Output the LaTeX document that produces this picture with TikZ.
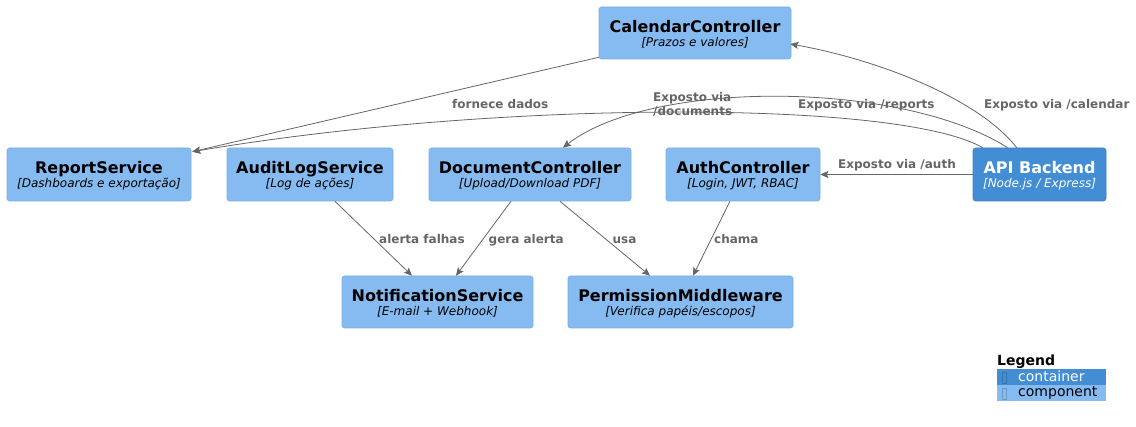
\documentclass[tikz,border=0pt]{standalone}
\usepackage{fontspec}
\setmainfont{DejaVu Sans}
\usetikzlibrary{arrows.meta,calc}
\definecolor{compc}{HTML}{85BBF0}
\definecolor{compd}{HTML}{7AAEE2}
\definecolor{contc}{HTML}{438DD5}
\definecolor{contd}{HTML}{3D83C8}
\definecolor{edgec}{HTML}{666666}
\definecolor{lblc}{HTML}{666666}
\tikzset{
  box/.style={rectangle, rounded corners=2.5pt, inner sep=0pt, line width=0.6pt},
  comp/.style={box, fill=compc, draw=compd},
  cont/.style={box, fill=contc, draw=contd},
  ttl/.style={anchor=base, inner sep=0pt, font=\fontsize{16}{16}\selectfont\bfseries},
  subt/.style={anchor=base, inner sep=0pt, font=\fontsize{12}{12}\selectfont\itshape},
  lbl/.style={anchor=base west, inner sep=0pt, text=lblc, font=\fontsize{12}{14}\selectfont\bfseries},
  rel/.style={draw=edgec, line width=0.8pt, -{Stealth[length=8pt,width=7pt,inset=1.5pt]}},
  legtxt/.style={anchor=base west, inner sep=0pt, font=\fontsize{14}{14}\selectfont},
  legbar/.style={rectangle, inner sep=0pt, anchor=north west, minimum width=109pt, minimum height=16pt},
}
\newcommand\mybox[8]{%
  \node[#2, minimum width=#5pt, minimum height=#6pt] (#1) at (#3,#4) {};
  \node[ttl] (#1-t) at ($(#1.north)+(0,25.5)$) {#7};
  \node[subt] (#1-s) at ($(#1.north)+(0,39.5)$) {#8};}
\begin{document}
\begin{tikzpicture}[x=1pt,y=-1pt]
\useasboundingbox[fill=white] (0,0) rectangle (1136,427);

% boxes
\mybox{cal}{comp}{695}{33}{192}{52}{CalendarController}{[Prazos e valores]}
\mybox{rep}{comp}{99}{174.5}{184}{53}{ReportService}{[Dashboards e exportação]}
\mybox{aud}{comp}{310}{174.5}{166}{53}{AuditLogService}{[Log de ações]}
\mybox{doc}{comp}{530}{174.5}{202}{53}{DocumentController}{[Upload/Download PDF]}
\mybox{auth}{comp}{743}{174.5}{154}{53}{AuthController}{[Login, JWT, RBAC]}
\mybox{notif}{comp}{437.5}{302}{191}{52}{NotificationService}{[E-mail + Webhook]}
\mybox{perm}{comp}{680.5}{302}{225}{52}{PermissionMiddleware}{[Verifica papéis/escopos]}
\node[cont, minimum width=133pt, minimum height=53pt] (api) at (1039.5,174.5) {};
\node[ttl, text=white] (api-t) at ($(api.north)+(0,25.5)$) {API Backend};
\node[subt, text=white] (api-s) at ($(api.north)+(0,39.5)$) {[Node.js / Express]};

% connection points
\coordinate (calsw) at ($(cal.south west)+(0,-2)$);
\coordinate (calin) at ($(cal.east)+(-1,11)$);
\coordinate (repin) at ($(rep.north east)+(1,4)$);
\coordinate (apiA) at ($(api.north west)+(10,0)$);
\coordinate (apiB) at ($(api.north west)+(35,0)$);
\coordinate (apiC) at ($(api.north west)+(44,0)$);
\coordinate (docin) at ($(doc.north)+(33,0)$);

% connectors
\draw[rel] (calsw) -- (repin);
\draw[rel] (apiA) .. controls +(-83,-48) and +(308,-52) .. (repin);
\draw[rel] (apiB) .. controls +(-108,-68) and +(87,-68) .. (docin);
\draw[rel] (apiC) .. controls +(-37,-48) and +(90,16) .. (calin);
\draw[rel] (api.west) -- (auth.east);
\draw[rel] ($(aud.south)+(25,0)$) -- ($(notif.north)+(-25.5,0)$);
\draw[rel] ($(doc.south)+(-19,0)$) -- ($(notif.north)+(18.5,0)$);
\draw[rel] ($(doc.south)+(30,0)$) -- ($(perm.north)+(-30.5,0)$);
\draw[rel] ($(auth.south)+(-13,0)$) -- ($(perm.north)+(12.5,0)$);

% labels
\node[lbl] (l1) at (452,109) {fornece dados};
\node[lbl] (l2) at (798,109) {Exposto via /reports};
\node[lbl] (l3a) at (653,102) {Exposto via};
\node[lbl] (l3b) at (653,115.5) {/documents};
\node[lbl] (l4) at (984,108.5) {Exposto via /calendar};
\node[lbl] (l5) at (838,168.5) {Exposto via /auth};
\node[lbl] (l6) at (379,243.5) {alerta falhas};
\node[lbl] (l7) at (488.5,243.5) {gera alerta};
\node[lbl] (l8) at (612.5,243.5) {usa};
\node[lbl] (l9) at (714,243.5) {chama};

% legend
\node[legtxt, font=\fontsize{14}{14}\selectfont\bfseries] (leg) at (997,366) {Legend};
\node[legbar, fill=contc] (legc) at (997,369) {};
\node[legbar, fill=compc] (legm) at (997,385) {};
\draw[contd!70!black, opacity=0.5, line width=0.4pt] (1002,372) rectangle (1006.5,383);
\draw[compd!70!black, opacity=0.5, line width=0.4pt] (1002,388) rectangle (1006.5,399);
\node[legtxt, text=white] (legct) at (1018,381.5) {container};
\node[legtxt, text=black] (legmt) at (1018,397) {component};
\end{tikzpicture}
\end{document}
